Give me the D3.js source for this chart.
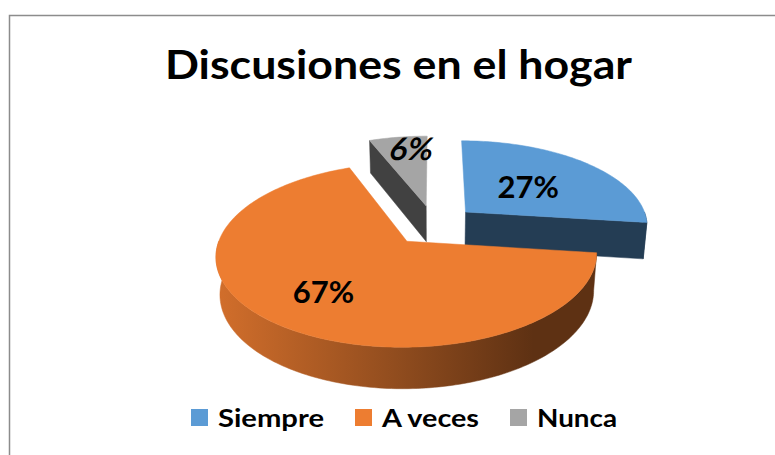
<!DOCTYPE html>
<html>
<head>
<meta charset="utf-8">
<script src="https://cdn.jsdelivr.net/npm/d3@7"></script>
<style>
  body { margin: 0; background: #fff; }
  svg { display: block; }
</style>
</head>
<body>
<svg width="775" height="455"></svg>
<script>
var categories = ["Siempre", "A veces", "Nunca"];
var values = [27, 67, 6];
var percentLabels = ["27%", "67%", "6%"];
var chartTitle = "Discusiones en el hogar";

var svg = d3.select("svg");
var defs = svg.append("defs");

var colors = d3.scaleOrdinal().domain(categories).range(["#5B9BD5", "#ED7D31", "#A5A5A5"]);

// frame
svg.append("rect")
    .attr("x", 9.5).attr("y", 15.5)
    .attr("width", 820).attr("height", 500)
    .attr("fill", "#fff")
    .attr("stroke", "#8c8c8c")
    .attr("stroke-width", 1.5);

// title
svg.append("text")
    .attr("x", 398.5).attr("y", 79)
    .attr("text-anchor", "middle")
    .attr("textLength", 467)
    .attr("lengthAdjust", "spacingAndGlyphs")
    .style("font-family", "Lato, 'Open Sans', sans-serif")
    .style("font-weight", "bold")
    .style("font-size", "40px")
    .text(chartTitle);

// 3d pie settings
var cx = 434, cy = 225, radius = 183, thick = 42, explode = 43;
var tilt = 27.75 * Math.PI / 180, focal = 1106;
var sinT = Math.sin(tilt), cosT = Math.cos(tilt);
var camera = [0, focal * sinT, -focal * cosT];

function project(p) {
    var yp = p[1] * cosT + p[2] * sinT;
    var dp = p[2] * cosT - p[1] * sinT;
    var k = focal / (focal + dp);
    return [cx + p[0] * k, cy - yp * k];
}

var line = d3.line();
function facePath(pts) {
    return line(pts.map(project)) + "Z";
}

var pie = d3.pie().sort(null).value(d => d.value);
var pieData = pie(categories.map((c, i) => ({ name: c, value: values[i], label: percentLabels[i] })));

pieData.forEach(d => {
    var mid = (d.startAngle + d.endAngle) / 2;
    d.ox = explode * Math.sin(mid);
    d.oz = explode * Math.cos(mid);
    d.mid = mid;
});

function rim(d, a, y) {
    return [d.ox + radius * Math.sin(a), y, d.oz + radius * Math.cos(a)];
}
function arcPoints(d, a0, a1, y) {
    var n = Math.max(2, Math.ceil((a1 - a0) / 0.02));
    return d3.range(n + 1).map(i => rim(d, a0 + (a1 - a0) * i / n, y));
}
function facing(n, p) {
    var v = [camera[0] - p[0], camera[1] - p[1], camera[2] - p[2]];
    var len = Math.hypot(v[0], v[1], v[2]);
    return (n[0] * v[0] + n[1] * v[1] + n[2] * v[2]) / len > 0.05;
}

// side shading gradient for each slice
pieData.forEach((d, i) => {
    var base = d3.color(colors(d.data.name));
    var g = defs.append("linearGradient")
        .attr("id", "side" + i)
        .attr("gradientUnits", "userSpaceOnUse")
        .attr("x1", cx - radius - explode).attr("x2", cx + radius + explode)
        .attr("y1", 0).attr("y2", 0);
    [[0, 0.3], [0.42, 1.4], [0.72, 2.6], [1, 2.6]].forEach(s => {
        g.append("stop").attr("offset", s[0]).attr("stop-color", base.darker(s[1]).formatHex());
    });
});

// far slices first
var drawOrder = pieData.slice().sort((a, b) => b.oz - a.oz);

var pieGroup = svg.append("g").attr("class", "pie");

drawOrder.forEach(d => {
    var i = pieData.indexOf(d);
    var g = pieGroup.append("g");
    var a0 = d.startAngle, a1 = d.endAngle;
    var apexTop = [d.ox, 0, d.oz], apexBot = [d.ox, -thick, d.oz];
    var dark = d3.color(colors(d.data.name)).darker(2.6).formatHex();

    // cut faces
    [[a0, [-Math.cos(a0), 0, Math.sin(a0)]], [a1, [Math.cos(a1), 0, -Math.sin(a1)]]].forEach(c => {
        if (facing(c[1], apexTop)) {
            g.append("path")
                .attr("d", facePath([apexTop, rim(d, c[0], 0), rim(d, c[0], -thick), apexBot]))
                .attr("fill", dark)
                .attr("stroke", dark).attr("stroke-width", 0.5);
        }
    });

    // outer side (front half only)
    var s0 = Math.max(a0, Math.PI / 2), s1 = Math.min(a1, 3 * Math.PI / 2);
    if (s1 > s0) {
        var pts = arcPoints(d, s0, s1, 0).concat(arcPoints(d, s0, s1, -thick).reverse());
        g.append("path")
            .attr("d", facePath(pts))
            .attr("fill", "url(#side" + i + ")")
            .attr("stroke", "url(#side" + i + ")").attr("stroke-width", 0.5);
    }

    // top
    g.append("path")
        .attr("d", facePath([apexTop].concat(arcPoints(d, a0, a1, 0))))
        .attr("fill", colors(d.data.name))
        .attr("stroke", colors(d.data.name)).attr("stroke-width", 0.5);
});

// data labels
var labelRadius = { "Siempre": 0.5, "A veces": 0.65, "Nunca": 0.8 };
var labelTurn = { "Siempre": 0, "A veces": 0, "Nunca": 0.07 };
var labelSkew = { "Siempre": 0, "A veces": 0, "Nunca": -12 };
pieData.forEach(d => {
    var r = radius * labelRadius[d.data.name];
    var a = d.mid + labelTurn[d.data.name];
    var p = project([d.ox + r * Math.sin(a), 0, d.oz + r * Math.cos(a)]);
    svg.append("text")
        .attr("transform", `translate(${p[0]},${p[1]}) skewX(${labelSkew[d.data.name]})`)
        .attr("dy", "0.36em")
        .attr("text-anchor", "middle")
        .style("font-family", "Lato, 'Open Sans', sans-serif")
        .style("font-weight", "bold")
        .style("font-size", "31px")
        .attr("fill", "#000")
        .text(d.data.label);
});

// legend
var legendTextWidth = { "Siempre": 106, "A veces": 97, "Nunca": 80 };
var swatch = 17, swatchGap = 10, itemGap = 31, legendY = 427;
var total = d3.sum(categories, c => swatch + swatchGap + legendTextWidth[c]) + itemGap * (categories.length - 1);
var lx = 404 - total / 2;
var legend = svg.append("g").attr("class", "legend");
categories.forEach(c => {
    legend.append("rect")
        .attr("x", lx).attr("y", legendY - 18)
        .attr("width", swatch).attr("height", swatch)
        .attr("fill", colors(c));
    legend.append("text")
        .attr("x", lx + swatch + swatchGap).attr("y", legendY)
        .attr("textLength", legendTextWidth[c])
        .attr("lengthAdjust", "spacingAndGlyphs")
        .style("font-family", "Lato, 'Open Sans', sans-serif")
        .style("font-weight", "bold")
        .style("font-size", "25px")
        .text(c);
    lx += swatch + swatchGap + legendTextWidth[c] + itemGap;
});
</script>
</body>
</html>
